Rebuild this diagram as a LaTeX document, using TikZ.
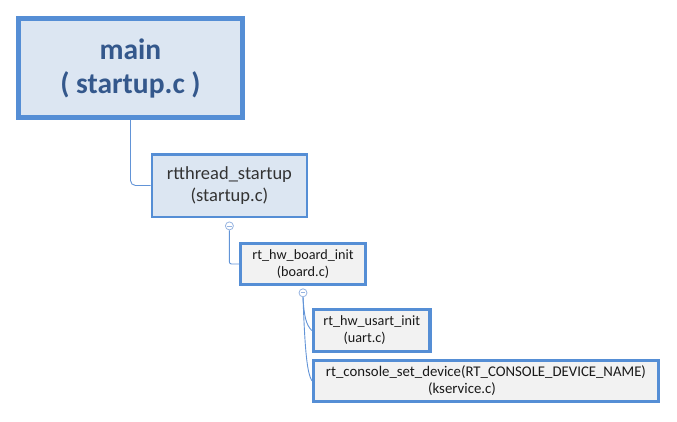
\documentclass[tikz,border=0pt]{standalone}
\usepackage{fontspec}
\setmainfont{Carlito}
\usepackage{tikz}
\usetikzlibrary{positioning}

\definecolor{boxline}{RGB}{85,142,213}
\definecolor{bluefill}{RGB}{220,230,242}
\definecolor{grayfill}{RGB}{242,242,242}
\definecolor{linkc}{RGB}{98,148,215}
\definecolor{knobc}{RGB}{150,180,225}
\definecolor{titlec}{RGB}{52,88,140}

\tikzset{
  topbox/.style={draw=boxline, fill=bluefill, line width=5pt, align=center,
    text=titlec, font=\fontsize{29.5}{34}\selectfont\bfseries},
  callbox/.style={draw=boxline, fill=bluefill, line width=2.5pt, align=center,
    text=black!80, font=\fontsize{18.5}{22.5}\selectfont},
  subbox/.style={draw=boxline, fill=grayfill, line width=3.2pt, align=center,
    text=black!90, font=\fontsize{14.2}{17}\selectfont},
  link/.style={draw=linkc, line width=0.9pt},
  knob/.style={circle, draw=knobc, fill=white, line width=0.8pt, minimum size=8pt,
    inner sep=0pt, path picture={\draw[knobc, line width=0.8pt]
      ([xshift=-2.4pt]path picture bounding box.center) --
      ([xshift=2.4pt]path picture bounding box.center);}}
}

\begin{document}
\begin{tikzpicture}[x=1pt,y=-1pt]
\useasboundingbox (0,0) rectangle (677,421);
% call tree
\node[topbox, minimum width=224pt, minimum height=99pt] (main) at (130.5,68)
  {main\\( startup.c )};
\node[callbox, minimum width=155pt, minimum height=62.5pt] (rtstart) at (229.4,185.5)
  {rtthread\_startup\\(startup.c)};
\node[knob, below=3.5pt of rtstart] (knobA) {};
\node[subbox, minimum width=125pt, minimum height=41pt] (board) at (303,264)
  {rt\_hw\_board\_init\\(board.c)};
\node[knob, below=2.3pt of board] (knobB) {};
\node[subbox, minimum width=116.7pt, minimum height=41.7pt] (usart) at (371.7,330.5)
  {rt\_hw\_usart\_init\\(uart.c)\kern14pt};
\node[subbox, minimum width=344.7pt, minimum height=40.7pt, font=\fontsize{14.8}{17}\selectfont]
  (console) at (486,381)
  {rt\_console\_set\_device(RT\_CONSOLE\_DEVICE\_NAME)\\(kservice.c)\kern48pt};
% connectors
\draw[link, rounded corners=5pt] (main.south) |- (rtstart.west);
\draw[link, rounded corners=2pt] (knobA.south) |- (board.west);
\draw[link] (knobB.south) .. controls +(1,18) and +(-6,-6) .. (usart.west);
\draw[link] (knobB.south) .. controls +(2,55) and +(-5,-8) .. (console.west);
\end{tikzpicture}
\end{document}
